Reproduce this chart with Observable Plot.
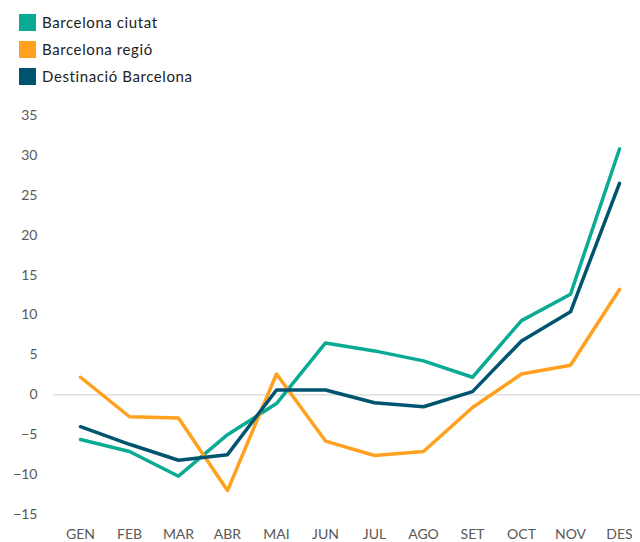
<!DOCTYPE html>
<html><head><meta charset="utf-8">
<script src="https://cdn.jsdelivr.net/npm/d3@7"></script>
<script src="https://cdn.jsdelivr.net/npm/@observablehq/plot@0.6"></script>
<style>
body{margin:0;background:#fff;font-family:Lato,"Open Sans",sans-serif;}
#legend{height:90px;position:relative;}
.item{position:absolute;left:19px;display:flex;align-items:center;font-size:15px;color:#222;letter-spacing:0.6px;}
.sw{width:17px;height:17px;margin-right:6px;}
</style></head>
<body>
<div id="legend"></div>
<div id="chart"></div>
<script>
const months = ["GEN","FEB","MAR","ABR","MAI","JUN","JUL","AGO","SET","OCT","NOV","DES"];
const seriesNames = ["Barcelona ciutat","Barcelona regió","Destinació Barcelona"];
const colors = ["#0aab94","#ffa11e","#005470"];
const ciutat = [-5.6,-7.1,-10.2,-5.0,-1.1,6.5,5.5,4.25,2.2,9.3,12.6,30.8];
const regio = [2.2,-2.75,-2.9,-12.0,2.6,-5.8,-7.6,-7.1,-1.6,2.6,3.7,13.2];
const destinacio = [-4.0,-6.2,-8.2,-7.5,0.6,0.6,-1.0,-1.5,0.4,6.75,10.4,26.5];
const yTicks = [-15,-10,-5,0,5,10,15,20,25,30,35];

const all = [ciutat, regio, destinacio];
const data = [];
all.forEach((arr, si) => arr.forEach((v, i) => data.push({serie: seriesNames[si], month: months[i], value: v})));

const legend = document.getElementById("legend");
seriesNames.forEach((n, i) => {
  const d = document.createElement("div");
  d.className = "item";
  d.style.top = (13 + i * 27) + "px";
  d.innerHTML = `<div class="sw" style="background:${colors[i]}"></div><span>${n}</span>`;
  legend.appendChild(d);
});

const chart = Plot.plot({
  width: 640,
  height: 452,
  marginLeft: 77,
  marginRight: 18,
  marginTop: 25,
  marginBottom: 28,
  style: {fontFamily: "Lato, 'Open Sans', sans-serif", fontSize: "14px", color: "#595959"},
  x: {type: "point", domain: months, padding: 0, label: null},
  y: {domain: [-15, 35], ticks: yTicks, label: null},
  color: {domain: seriesNames, range: colors},
  marks: [
    Plot.ruleY([0], {stroke: "#d9d9d9", strokeWidth: 1.3, insetLeft: -24, insetRight: -18}),
    Plot.axisY({ticks: yTicks, tickSize: 0, tickPadding: 40, label: null, fill: "#595959"}),
    Plot.axisX({tickSize: 0, tickPadding: 15, label: null, fill: "#595959", style: {letterSpacing: "0.4px"}}),
    Plot.line(data, {x: "month", y: "value", z: "serie", stroke: "serie", strokeWidth: 3.5, strokeLinejoin: "round", strokeLinecap: "round"})
  ]
});
document.getElementById("chart").appendChild(chart);
</script>
</body></html>
